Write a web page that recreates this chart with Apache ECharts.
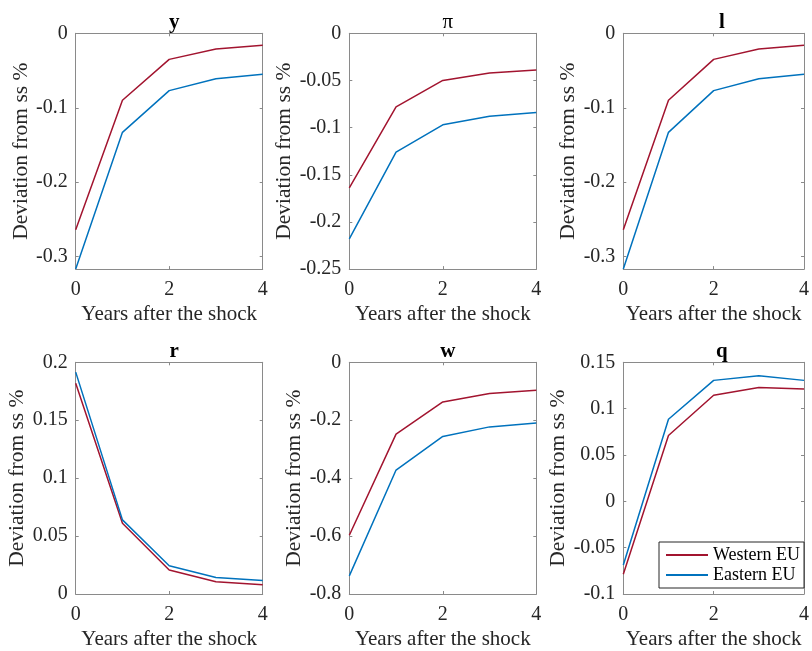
<!DOCTYPE html>
<html>
<head>
<meta charset="utf-8">
<script src="https://cdn.jsdelivr.net/npm/echarts@6/dist/echarts.min.js"></script>
<style>
html,body{margin:0;padding:0;background:#fff;}
#chart{width:812px;height:651px;}
</style>
</head>
<body>
<div id="chart"></div>
<script>
// ---- data ----
const years = [0, 1, 2, 3, 4];
const xTicks = [0, 2, 4];
const panelTitles = ['y', 'π', 'l', 'r', 'w', 'q'];
const seriesNames = ['Western EU', 'Eastern EU'];

const yWestern  = [-0.264, -0.090, -0.035, -0.021, -0.016];
const yEastern  = [-0.3167, -0.133, -0.077, -0.061, -0.055];
const piWestern = [-0.164, -0.078, -0.050, -0.042, -0.039];
const piEastern = [-0.218, -0.126, -0.097, -0.088, -0.084];
const lWestern  = [-0.264, -0.090, -0.035, -0.021, -0.016];
const lEastern  = [-0.3167, -0.133, -0.077, -0.061, -0.055];
const rWestern  = [0.182, 0.061, 0.0207, 0.0105, 0.008];
const rEastern  = [0.1915, 0.064, 0.0244, 0.0142, 0.0116];
const wWestern  = [-0.597, -0.248, -0.137, -0.108, -0.0965];
const wEastern  = [-0.7375, -0.372, -0.256, -0.223, -0.210];
const qWestern  = [-0.0788, 0.071, 0.1145, 0.1227, 0.1213];
const qEastern  = [-0.0688, 0.0885, 0.1305, 0.1355, 0.1305];

const yTicks  = [-0.3, -0.2, -0.1, 0];
const piTicks = [-0.25, -0.2, -0.15, -0.1, -0.05, 0];
const lTicks  = [-0.3, -0.2, -0.1, 0];
const rTicks  = [0, 0.05, 0.1, 0.15, 0.2];
const wTicks  = [-0.8, -0.6, -0.4, -0.2, 0];
const qTicks  = [-0.1, -0.05, 0, 0.05, 0.1, 0.15];

const yRange  = [-0.3167, 0];
const piRange = [-0.25, 0];
const lRange  = [-0.3167, 0];
const rRange  = [0, 0.2];
const wRange  = [-0.8, 0];
const qRange  = [-0.1, 0.15];

// ---- layout / style ----
const panels = [
  {w: yWestern,  e: yEastern,  ticks: yTicks,  range: yRange},
  {w: piWestern, e: piEastern, ticks: piTicks, range: piRange},
  {w: lWestern,  e: lEastern,  ticks: lTicks,  range: lRange},
  {w: rWestern,  e: rEastern,  ticks: rTicks,  range: rRange},
  {w: wWestern,  e: wEastern,  ticks: wTicks,  range: wRange},
  {w: qWestern,  e: qEastern,  ticks: qTicks,  range: qRange}
];
const colLeft = [75.7, 349.3, 623.3];
const colWidth = 187;
const rowTop = [33.3, 362.3];
const rowHeight = 235.8;
const FONT = '"Liberation Serif", "Times New Roman", serif';
const AXIS_COLOR = '#8a8a8a';
const TEXT_COLOR = '#262626';
const RED = '#A2142F';
const BLUE = '#0072BD';

const grids = [], xAxes = [], yAxes = [], series = [], titles = [];
panels.forEach((p, i) => {
  const col = i % 3, row = Math.floor(i / 3);
  const left = colLeft[col], top = rowTop[row];
  grids.push({left: left, top: top, width: colWidth, height: rowHeight, containLabel: false});
  titles.push({
    text: panelTitles[i],
    left: left + colWidth / 2,
    top: top - 26,
    textAlign: 'center',
    textStyle: {fontFamily: FONT, fontSize: 21, fontWeight: panelTitles[i] === 'π' ? 'normal' : 'bold', color: '#000'}
  });
  const tickStyle = {show: true, inside: true, length: 3, lineStyle: {color: AXIS_COLOR}};
  // bottom x
  xAxes.push({
    type: 'value', gridIndex: i, min: 0, max: 4, position: 'bottom',
    axisLine: {show: true, onZero: false, lineStyle: {color: AXIS_COLOR, width: 1}},
    axisTick: Object.assign({customValues: xTicks}, tickStyle),
    axisLabel: {customValues: xTicks, fontFamily: FONT, fontSize: 20, color: TEXT_COLOR, margin: 11},
    splitLine: {show: false},
    name: 'Years after the shock', nameLocation: 'middle', nameGap: 35,
    nameTextStyle: {fontFamily: FONT, fontSize: 21, color: TEXT_COLOR}
  });
  // top mirror x
  xAxes.push({
    type: 'value', gridIndex: i, min: 0, max: 4, position: 'top',
    axisLine: {show: true, onZero: false, lineStyle: {color: AXIS_COLOR, width: 1}},
    axisTick: Object.assign({customValues: xTicks}, tickStyle),
    axisLabel: {show: false}, splitLine: {show: false}
  });
  // left y
  yAxes.push({
    type: 'value', gridIndex: i, min: p.range[0], max: p.range[1], position: 'left',
    axisLine: {show: true, onZero: false, lineStyle: {color: AXIS_COLOR, width: 1}},
    axisTick: Object.assign({customValues: p.ticks}, tickStyle),
    axisLabel: {customValues: p.ticks, fontFamily: FONT, fontSize: 20, color: TEXT_COLOR, margin: 8},
    splitLine: {show: false},
    name: 'Deviation from ss %', nameLocation: 'middle', nameGap: 42,
    nameTextStyle: {fontFamily: FONT, fontSize: 21.5, color: TEXT_COLOR}
  });
  // right mirror y
  yAxes.push({
    type: 'value', gridIndex: i, min: p.range[0], max: p.range[1], position: 'right',
    axisLine: {show: true, onZero: false, lineStyle: {color: AXIS_COLOR, width: 1}},
    axisTick: Object.assign({customValues: p.ticks}, tickStyle),
    axisLabel: {show: false}, splitLine: {show: false}
  });
  [[p.w, RED, seriesNames[0]], [p.e, BLUE, seriesNames[1]]].forEach(([vals, color, name]) => {
    series.push({
      type: 'line', name: name, xAxisIndex: 2 * i, yAxisIndex: 2 * i,
      data: years.map((x, k) => [x, vals[k]]),
      symbol: 'none', silent: true, animation: false,
      lineStyle: {color: color, width: 1.5}, itemStyle: {color: color}
    });
  });
});

const chart = echarts.init(document.getElementById('chart'), null, {renderer: 'canvas'});
chart.setOption({
  backgroundColor: '#fff',
  animation: false,
  title: titles,
  grid: grids,
  xAxis: xAxes,
  yAxis: yAxes,
  legend: {
    data: seriesNames,
    orient: 'vertical',
    left: 659, top: 542,
    padding: [4, 4, 4, 6],
    itemGap: 2,
    itemWidth: 42, itemHeight: 14,
    itemStyle: {opacity: 0},
    backgroundColor: '#fff',
    borderColor: '#262626', borderWidth: 1,
    textStyle: {fontFamily: FONT, fontSize: 18, color: '#000'},
    selectedMode: false
  },
  series: series
});
</script>
</body>
</html>
